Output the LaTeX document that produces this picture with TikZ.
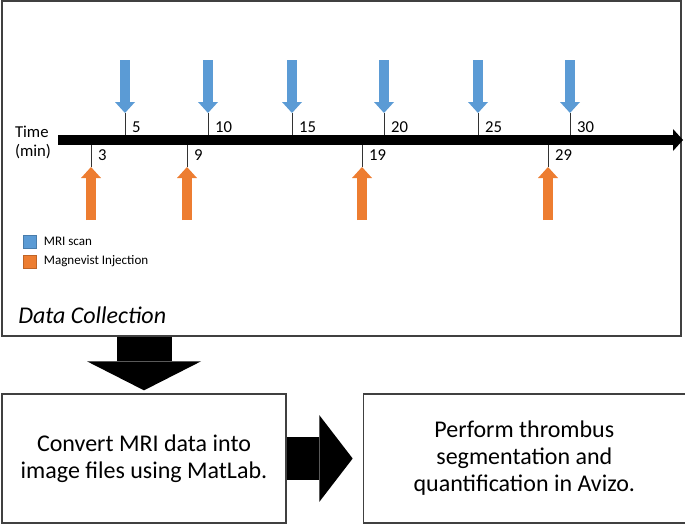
\documentclass[tikz,border=0pt]{standalone}
\usepackage{fontspec}
\setmainfont{Carlito}
\usetikzlibrary{arrows.meta,positioning,fit,calc}
\definecolor{scanBlue}{HTML}{5B9BD5}
\definecolor{injectOrange}{HTML}{ED7D31}
\definecolor{boxLine}{HTML}{404040}
\tikzset{
    panel/.style={
        rectangle,
        draw=boxLine,
        line width=1pt,
        inner sep=0pt
    },
    stepBox/.style={
        panel,
        minimum height=96.75pt,
        align=center,
        font=\fontsize{18}{20.25}\selectfont
    },
    % Timeline
    timeAxis/.style={line width=7.5pt, -{Triangle[width=16.5pt,length=7.5pt,line width=0pt]}},
    tickLine/.style={draw=black!80, line width=0.75pt},
    scanArrow/.style={draw=scanBlue, line width=7.5pt, -{Triangle[width=15pt,length=8.25pt,line width=0pt]}},
    injectArrow/.style={draw=injectOrange, line width=7.5pt, -{Triangle[width=15pt,length=8.25pt,line width=0pt]}},
    scanLabel/.style={anchor=south west, inner xsep=5pt, inner ysep=1.5pt, font=\fontsize{12.5}{14}\selectfont},
    injectLabel/.style={anchor=north west, inner xsep=5pt, inner ysep=3.5pt, font=\fontsize{12.5}{14}\selectfont},
    axisLabel/.style={align=left, inner sep=0pt, font=\fontsize{12.5}{14.25}\selectfont},
    % Legend
    legendBox/.style={rectangle, draw=#1!80!black, fill=#1, minimum size=10pt, inner sep=0pt},
    legendText/.style={anchor=west, inner sep=0pt, font=\fontsize{9.8}{11}\selectfont},
    % Block arrows between steps
    downArrow/.style={line width=41.25pt, -{Triangle[width=85.5pt,length=21.75pt,line width=0pt]}},
    rightArrow/.style={line width=32pt, -{Triangle[width=65pt,length=25pt,line width=0pt]}}
}

\begin{document}
\begin{tikzpicture}[x=0.75pt, y=-0.75pt]
    \useasboundingbox (0,0) rectangle (685,525);

    % Data collection panel
    \node[panel, fit={(2,1) (681,336)}] (collect) {};
    \node[anchor=base west, inner sep=0pt, font=\fontsize{18}{20}\selectfont\itshape] (collectTitle) at (18,323) {Data Collection};

    % Time axis
    \coordinate (axisStart) at (58,140);
    \coordinate (axisEnd) at (683,140);
    \draw[timeAxis] (axisStart) -- (axisEnd);
    \node[axisLabel, left=5pt of axisStart, yshift=-2pt] (timeLbl) {Time\\(min)};

    % MRI scans
    \draw[scanArrow] (125,60) -- (125,113);
    \draw[tickLine] (125,113) -- (125,135) node[scanLabel] (scan5) {5};
    \draw[scanArrow] (208,60) -- (208,113);
    \draw[tickLine] (208,113) -- (208,135) node[scanLabel] (scan10) {10};
    \draw[scanArrow] (292,60) -- (292,113);
    \draw[tickLine] (292,113) -- (292,135) node[scanLabel] (scan15) {15};
    \draw[scanArrow] (384,60) -- (384,113);
    \draw[tickLine] (384,113) -- (384,135) node[scanLabel] (scan20) {20};
    \draw[scanArrow] (478,60) -- (478,113);
    \draw[tickLine] (478,113) -- (478,135) node[scanLabel] (scan25) {25};
    \draw[scanArrow] (570,60) -- (570,113);
    \draw[tickLine] (570,113) -- (570,135) node[scanLabel] (scan30) {30};

    % Magnevist injections
    \draw[injectArrow] (91,220) -- (91,167);
    \draw[tickLine] (91,167) -- (91,145) node[injectLabel] (inj3) {3};
    \draw[injectArrow] (187,220) -- (187,167);
    \draw[tickLine] (187,167) -- (187,145) node[injectLabel] (inj9) {9};
    \draw[injectArrow] (362,220) -- (362,167);
    \draw[tickLine] (362,167) -- (362,145) node[injectLabel] (inj19) {19};
    \draw[injectArrow] (548,220) -- (548,167);
    \draw[tickLine] (548,167) -- (548,145) node[injectLabel] (inj29) {29};

    % Legend
    \node[legendBox=scanBlue] (legScan) at (30,241.5) {};
    \node[legendText, right=5pt of legScan] (legScanTxt) {MRI scan};
    \node[legendBox=injectOrange] (legInj) at (30,261.5) {};
    \node[legendText, right=5pt of legInj] (legInjTxt) {Magnevist Injection};

    % Processing steps
    \node[stepBox, minimum width=213pt] (convert) at (144,458.5) {Convert MRI data into\\image files using MatLab.};
    \node[stepBox, minimum width=241.5pt, right=57pt of convert] (perform) {Perform thrombus\\segmentation and\\quantification in Avizo.};

    % Connections
    \draw[downArrow, shorten >=2.25pt] (convert.north |- collect.south) -- (convert.north);
    \draw[rightArrow, shorten >=7.5pt] (convert.east) -- (perform.west);
\end{tikzpicture}
\end{document}
